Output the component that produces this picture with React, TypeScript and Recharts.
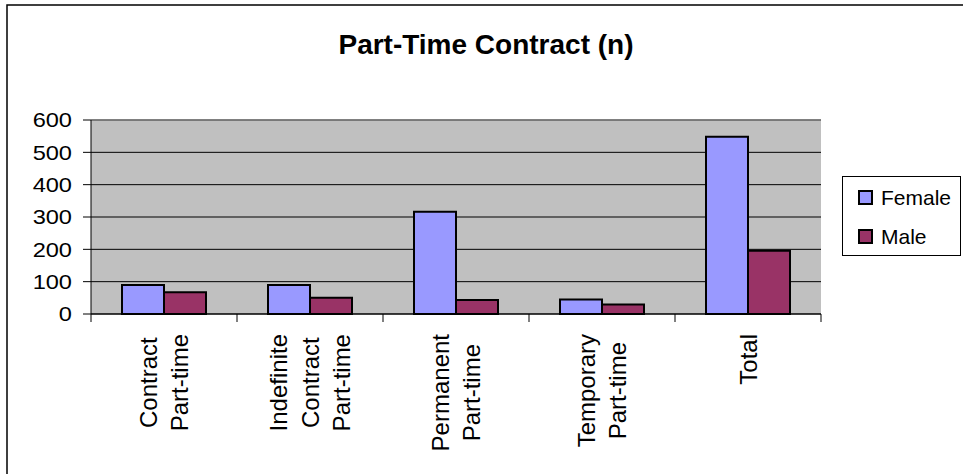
import React from "react";
import { BarChart, Bar, XAxis, YAxis, CartesianGrid, Legend, ReferenceLine } from "recharts";

const categories = [
  "Contract\nPart-time",
  "Indefinite\nContract\nPart-time",
  "Permanent\nPart-time",
  "Temporary\nPart-time",
  "Total",
];
const female = [90, 90, 316, 45, 548];
const male = [67, 50, 43, 29, 196];
const yTicks = [0, 100, 200, 300, 400, 500, 600];
const seriesNames = ["Female", "Male"];
const seriesColors = ["#9999FF", "#993366"];

const data = categories.map((c, i) => ({ name: c, Female: female[i], Male: male[i] }));

const FONT = "'Liberation Sans', Arial, sans-serif";

let measureCtx: CanvasRenderingContext2D | null = null;
function measure(s: string, font: string): number {
  if (!measureCtx) {
    const c = document.createElement("canvas");
    measureCtx = c.getContext("2d");
  }
  if (!measureCtx) return s.length * 12;
  measureCtx.font = font;
  return measureCtx.measureText(s).width;
}

const XTick = (props: any) => {
  const { x, y, payload, index } = props;
  const lines = String(payload.value).split("\n");
  const half = payload.offset ?? 73;
  const fs = 24;
  const maxLen = Math.max(...lines.map((l) => measure(l, `${fs}px ${FONT}`)));
  const yc = y + 20 + maxLen / 2;
  const n = lines.length;
  const spacing = 31.5;
  return (
    <g>
      <line x1={x - half} x2={x - half} y1={y} y2={y + 8} stroke="#000" strokeWidth={1} />
      {index === categories.length - 1 && (
        <line x1={x + half} x2={x + half} y1={y} y2={y + 8} stroke="#000" strokeWidth={1} />
      )}
      {lines.map((l, i) => {
        const bx = x + 8.6 + (i - (n - 1) / 2) * spacing;
        return (
          <text
            key={i}
            x={0}
            y={0}
            transform={`translate(${bx},${yc}) rotate(-90)`}
            textAnchor="middle"
            fontSize={fs}
            fontFamily={FONT}
            fill="#000"
          >
            {l}
          </text>
        );
      })}
    </g>
  );
};

const YTick = (props: any) => {
  const { x, y, payload } = props;
  return (
    <text
      x={0}
      y={0}
      transform={`translate(${x},${y}) scale(1.18,1)`}
      textAnchor="end"
      dy="0.36em"
      fontSize={20}
      fontFamily={FONT}
      fill="#000"
    >
      {payload.value}
    </text>
  );
};

const LegendContent = () => (
  <div
    style={{
      position: "relative",
      width: 119,
      height: 80,
      border: "1px solid #000",
      boxSizing: "border-box",
      background: "#fff",
      fontFamily: FONT,
    }}
  >
    {seriesNames.map((name, i) => (
      <div
        key={name}
        style={{
          position: "absolute",
          left: 15,
          top: 13 + i * 39,
          height: 15,
          display: "flex",
          alignItems: "center",
        }}
      >
        <div
          style={{
            width: 15,
            height: 15,
            boxSizing: "border-box",
            border: "2px solid #000",
            background: seriesColors[i],
          }}
        />
        <span style={{ marginLeft: 8, fontSize: 21, color: "#000", lineHeight: "15px" }}>{name}</span>
      </div>
    ))}
  </div>
);

export default function App() {
  return (
    <div style={{ position: "absolute", left: 0, top: 0, width: 963, height: 474, background: "#fff" }}>
      <BarChart
        width={963}
        height={474}
        data={data}
        margin={{ top: 120, right: 142, bottom: 0, left: 0 }}
        barCategoryGap={31}
        barGap={0}
      >
        <rect x={7} y={5} width={1200} height={1200} fill="none" stroke="#000" strokeWidth={1.5} />
        <text
          x={486}
          y={54}
          textAnchor="middle"
          fontSize={28}
          fontWeight="bold"
          fontFamily={FONT}
          fill="#000"
        >
          Part-Time Contract (n)
        </text>
        <CartesianGrid fill="#C0C0C0" vertical={false} stroke="#000" strokeOpacity={1} />
        <ReferenceLine y={600} stroke="#808080" strokeWidth={1.5} />
        <XAxis
          dataKey="name"
          height={160}
          interval={0}
          tickSize={0}
          tickMargin={0}
          tickLine={false}
          axisLine={{ stroke: "#000", strokeWidth: 1 }}
          tick={<XTick />}
        />
        <YAxis
          width={91}
          domain={[0, 600]}
          ticks={yTicks}
          interval={0}
          tickSize={8}
          tickMargin={11}
          axisLine={{ stroke: "#000", strokeWidth: 1 }}
          tickLine={{ stroke: "#000", strokeWidth: 1 }}
          tick={<YTick />}
        />
        <YAxis
          yAxisId="right"
          orientation="right"
          width={0}
          domain={[0, 600]}
          tick={false}
          tickLine={false}
          axisLine={{ stroke: "#808080", strokeWidth: 1.5 }}
        />
        <Legend
          layout="vertical"
          align="center"
          verticalAlign="middle"
          wrapperStyle={{ position: "absolute", left: 842, top: 176, width: 119, height: 80 }}
          content={<LegendContent />}
        />
        <Bar dataKey="Female" fill={seriesColors[0]} stroke="#000" strokeWidth={2} isAnimationActive={false} />
        <Bar dataKey="Male" fill={seriesColors[1]} stroke="#000" strokeWidth={2} isAnimationActive={false} />
      </BarChart>
    </div>
  );
}
